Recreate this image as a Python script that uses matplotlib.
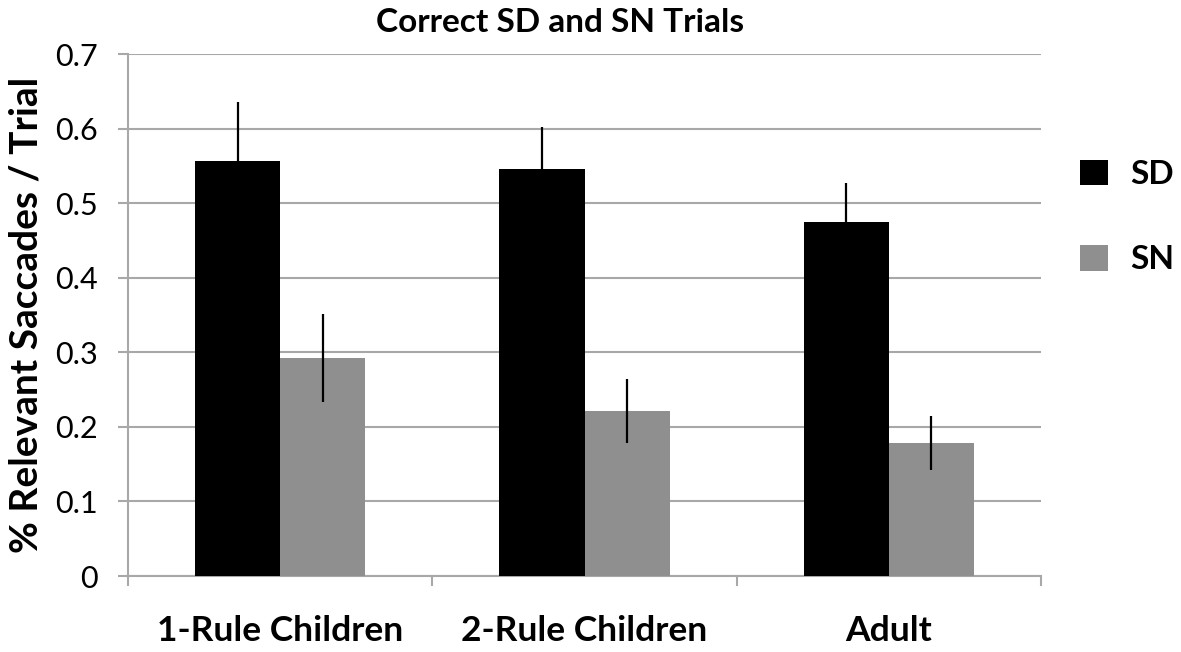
import numpy as np
import matplotlib.pyplot as plt

groups = ['1-Rule Children', '2-Rule Children', 'Adult']
sd_vals = [0.557, 0.546, 0.475]
sd_err = [0.078, 0.056, 0.052]
sn_vals = [0.292, 0.221, 0.178]
sn_err = [0.059, 0.043, 0.036]

plt.rcParams['font.family'] = ['Lato', 'DejaVu Sans']
plt.rcParams['font.weight'] = 'bold'
plt.rcParams['axes.labelweight'] = 'bold'

fig = plt.figure(figsize=(11.81, 6.52), dpi=100)
# axes box in pixels: x 128..1041, y 54..576
ax = fig.add_axes([128/1181, 1 - 576/652, (1041-128)/1181, (576-54)/652])

x = np.arange(len(groups))
w = 0.28
ekw = dict(ecolor='black', elinewidth=1.6, capsize=0)
ax.bar(x - w/2, sd_vals, w, yerr=sd_err, color='black', label='SD', error_kw=ekw, zorder=3)
ax.bar(x + w/2, sn_vals, w, yerr=sn_err, color='#8f8f8f', label='SN', error_kw=ekw, zorder=3)

ax.set_xlim(-0.5, 2.5)
ax.set_ylim(0, 0.7)
ax.set_yticks(np.arange(0, 0.71, 0.1))
ax.set_yticklabels(['0'] + ['%.1f' % v for v in np.arange(0.1, 0.71, 0.1)])
ax.yaxis.grid(True, color='#a8a8a8', linewidth=1.5, zorder=0)
ax.set_axisbelow(True)

ax.set_xticks(x)
ax.set_xticklabels(groups, fontsize=25.5, fontweight='bold')
ax.set_xticks([-0.5, 0.5, 1.5, 2.5], minor=True)
ax.tick_params(axis='x', which='major', length=0, pad=28)
ax.tick_params(axis='x', which='minor', length=7, width=1.5, color='#a8a8a8')
ax.tick_params(axis='y', length=7, width=1.5, color='#a8a8a8', labelsize=22, pad=15)
for t in ax.get_yticklabels():
    t.set_fontweight('normal')

for s in ['top', 'right']:
    ax.spines[s].set_visible(False)
for s in ['left', 'bottom']:
    ax.spines[s].set_color('#a8a8a8')
    ax.spines[s].set_linewidth(1.5)

ax.set_ylabel('% Relevant Saccades / Trial', fontsize=28, fontweight='bold', labelpad=8)
fig.text(560/1181, 1 - 22/652, 'Correct SD and SN Trials', ha='center', va='center',
         fontsize=24, fontweight='bold')

fig.legend(loc='center left', bbox_to_anchor=(1080/1181, 1 - 217/652), frameon=False,
           prop=dict(size=24, weight='bold'), handlelength=0.84, handleheight=0.81,
           labelspacing=1.68, handletextpad=0.66, borderpad=0, borderaxespad=0)

fig.savefig('out.png', dpi=100)
